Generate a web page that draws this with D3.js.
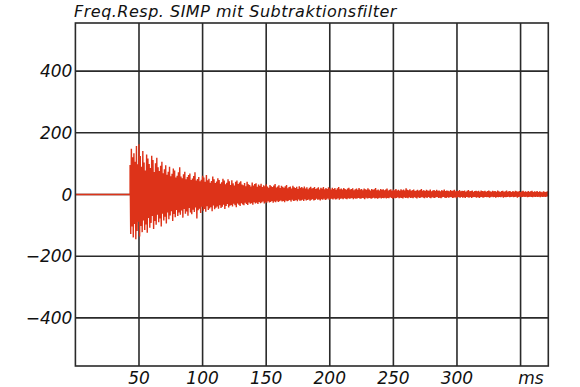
<!DOCTYPE html>
<html>
<head>
<meta charset="utf-8">
<script src="https://cdn.jsdelivr.net/npm/d3@7"></script>
<style>
  html, body { margin: 0; padding: 0; background: #fff; }
  svg text { font-family: "DejaVu Sans", "Liberation Sans", sans-serif; font-style: italic; fill: #111; }
</style>
</head>
<body>
<figure id="impulse-chart" style="margin:0"></figure>
<script>
const title = 'Freq.Resp. SIMP mit Subtraktionsfilter';
const xTicks = [50, 100, 150, 200, 250, 300];
const xGrid = [50, 100, 150, 200, 250, 300, 350];
const yTicks = [400, 200, 0, -200, -400];
const xUnit = 'ms';

// flat part before the onset
const leadIn = [[0, 0], [43, 0]];
const onsetMs = 43;

// positive peaks, one per ms from onset
const peaksUp = [
  96,148,121,134,106,157,98,163,125,90,
  141,104,78,130,117,99,86,126,112,73,
  101,119,88,76,93,106,69,82,95,64,
  74,90,59,67,84,78,55,61,72,88,
  58,53,66,74,49,57,63,68,47,52,
  60,72,45,50,57,43,48,61,55,41,
  63,46,51,38,44,58,49,37,42,53,
  47,35,40,51,45,33,38,49,43,31,
  46,36,29,41,45,34,39,43,32,30,
  37,27,41,33,31,26,39,29,34,36,
  25,32,28,35,24,30,27,33,26,22,
  31,27,24,29,34,23,26,30,21,28,
  25,22,27,31,20,24,26,19,28,23,
  21,25,18,27,22,24,20,26,19,23,
  17,22,25,19,21,24,18,20,23,16,
  22,19,24,17,21,18,23,20,16,22,
  18,21,15,20,24,17,19,16,21,18,
  15,19,22,16,18,20,14,17,19,15,
  21,16,18,14,19,17,15,20,16,13,
  18,15,17,21,14,16,13,18,15,17,
  14,16,19,13,15,17,12,16,14,18,
  13,15,12,17,14,16,13,20,15,14,
  17,12,14,16,11,13,15,12,14,18,
  12,14,11,15,13,12,16,10,13,14,
  11,15,12,13,10,14,12,16,11,13,
  12,10,14,11,13,15,10,12,11,14,
  10,12,11,13,9,12,14,10,11,13,
  9,11,12,10,12,9,13,11,10,12,
  9,11,13,10,9,12,10,11,9,13,
  10,8,11,12,9,10,13,9,11,10,
  8,11,9,12,10,9,11,8,10,12,
  9,10,8,11,9,10,12,8,10,9,
  11,8,10,9,7,10,9,8,10
];

// negative peaks, one per ms from onset (half a ms after the positive one)
const peaksDown = [
  -128,-104,-139,-96,-145,-118,-88,-136,-102,-122,
  -84,-115,-97,-124,-76,-108,-92,-70,-112,-86,
  -98,-66,-90,-78,-104,-62,-84,-72,-94,-58,
  -80,-68,-54,-86,-63,-74,-50,-70,-58,-66,
  -52,-75,-47,-62,-55,-69,-44,-58,-64,-49,
  -57,-42,-78,-51,-46,-60,-40,-53,-47,-56,
  -38,-50,-45,-41,-54,-36,-48,-43,-39,-46,
  -35,-44,-40,-33,-47,-37,-31,-42,-36,-34,
  -39,-30,-35,-41,-29,-33,-37,-28,-32,-35,
  -27,-31,-34,-26,-30,-28,-33,-25,-29,-27,
  -31,-24,-28,-26,-23,-29,-25,-27,-22,-26,
  -24,-21,-27,-23,-25,-20,-24,-22,-19,-23,
  -21,-25,-19,-22,-20,-18,-23,-17,-21,-20,
  -18,-22,-16,-20,-19,-17,-21,-15,-19,-18,
  -16,-20,-17,-15,-19,-18,-14,-17,-16,-19,
  -15,-17,-14,-18,-16,-13,-17,-15,-14,-16,
  -13,-16,-15,-12,-17,-14,-13,-15,-12,-14,
  -15,-12,-14,-13,-11,-15,-12,-14,-13,-11,
  -13,-14,-11,-12,-15,-10,-13,-12,-11,-14,
  -12,-10,-13,-11,-14,-12,-10,-13,-11,-12,
  -10,-13,-11,-12,-9,-11,-14,-10,-12,-11,
  -9,-12,-10,-11,-13,-9,-11,-10,-12,-9,
  -11,-10,-12,-9,-10,-13,-9,-11,-10,-8,
  -10,-12,-9,-11,-8,-10,-12,-9,-10,-11,
  -9,-8,-11,-10,-12,-9,-8,-10,-11,-9,
  -10,-9,-8,-11,-10,-9,-12,-8,-9,-10,
  -8,-10,-9,-11,-8,-9,-10,-8,-11,-9,
  -8,-9,-10,-8,-11,-9,-8,-10,-9,-8,
  -9,-8,-10,-9,-7,-9,-8,-10,-8,-9,
  -8,-9,-7,-10,-8,-9,-8,-7,-9,-8,
  -7,-9,-8,-7,-10,-8,-7,-9,-8,-7,
  -8,-7,-9,-8,-7,-8,-9,-7,-8,-7,
  -8,-7,-9,-7,-8,-7,-8,-7,-6
];

const width = 580;
const height = 387;
const plot = { left: 75.4, right: 548.3, top: 23, bottom: 366 };

const svg = d3.select('figure#impulse-chart')
  .append('svg')
  .attr('width', width)
  .attr('height', height);

const x = d3.scaleLinear().domain([0, 371.8]).range([plot.left, plot.right]);
const y = d3.scaleLinear().domain([-556, 556]).range([plot.bottom, plot.top]);

const gridColor = '#2a2a2a';

// grid
svg.append('g')
  .selectAll('line')
  .data(xGrid)
  .enter()
  .append('line')
  .attr('x1', d => x(d))
  .attr('x2', d => x(d))
  .attr('y1', plot.top)
  .attr('y2', plot.bottom)
  .attr('stroke', gridColor)
  .attr('stroke-width', 1.6);

svg.append('g')
  .selectAll('line')
  .data(yTicks)
  .enter()
  .append('line')
  .attr('x1', plot.left)
  .attr('x2', plot.right)
  .attr('y1', d => y(d))
  .attr('y2', d => y(d))
  .attr('stroke', gridColor)
  .attr('stroke-width', 1.6);

// signal: lead-in, then alternating positive / negative peaks
const points = leadIn.slice();
peaksUp.forEach((v, i) => {
  points.push([onsetMs + i, v]);
  if (i < peaksDown.length) points.push([onsetMs + i + 0.5, peaksDown[i]]);
});

const line = d3.line()
  .x(d => x(d[0]))
  .y(d => y(d[1]));

svg.append('path')
  .datum(points)
  .attr('d', line)
  .attr('fill', 'none')
  .attr('stroke', '#dd3319')
  .attr('stroke-width', 1.4)
  .attr('stroke-linejoin', 'bevel');

// frame
svg.append('rect')
  .attr('x', plot.left)
  .attr('y', plot.top)
  .attr('width', plot.right - plot.left)
  .attr('height', plot.bottom - plot.top)
  .attr('fill', 'none')
  .attr('stroke', gridColor)
  .attr('stroke-width', 1.6);

// labels
svg.append('g')
  .selectAll('text')
  .data(yTicks)
  .enter()
  .append('text')
  .attr('x', plot.left - 3)
  .attr('y', d => y(d))
  .attr('dy', '0.36em')
  .attr('text-anchor', 'end')
  .attr('font-size', 17)
  .text(d => d < 0 ? '\u2212' + Math.abs(d) : d);

svg.append('g')
  .selectAll('text')
  .data(xTicks)
  .enter()
  .append('text')
  .attr('x', d => x(d))
  .attr('y', 384)
  .attr('text-anchor', 'middle')
  .attr('font-size', 17)
  .text(d => d);

svg.append('text')
  .attr('x', 531)
  .attr('y', 384)
  .attr('text-anchor', 'middle')
  .attr('font-size', 17)
  .text(xUnit);

svg.append('text')
  .attr('x', 74)
  .attr('y', 17)
  .attr('font-size', 16)
  .attr('letter-spacing', 0.5)
  .text(title);
</script>
</body>
</html>
